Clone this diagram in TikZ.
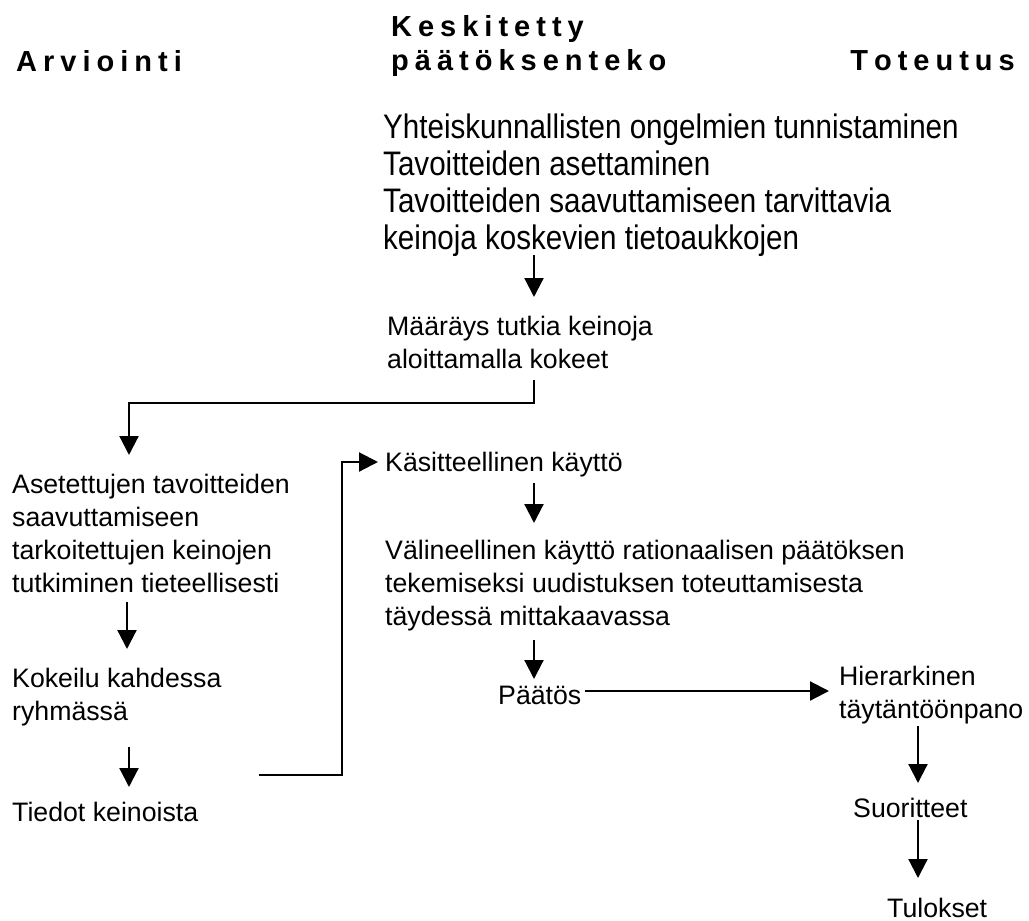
\documentclass[tikz,border=0pt]{standalone}
\usepackage{fontspec}
\setmainfont{Liberation Sans}
\newfontfamily\topfont{Liberation Sans}[FakeStretch=0.87]
\usetikzlibrary{arrows.meta}
\ExplSyntaxOn
\NewDocumentCommand\spread{m m}{ \tl_map_inline:nn {#2}{##1\kern#1} \kern-#1 }
\ExplSyntaxOff
\newcommand\ml[1]{\vtop{\halign{##\hfil\cr#1\crcr}}}
\tikzset{
  txt/.style={anchor=base west, inner sep=0pt, font=\fontsize{26.7}{33}\selectfont},
  toptxt/.style={anchor=base west, inner sep=0pt, font=\topfont\fontsize{34}{37}\selectfont},
  hdr/.style={anchor=base west, inner sep=0pt, font=\bfseries\fontsize{29}{33}\selectfont},
  arr/.style={line width=2.2pt, -{Triangle[length=19pt,width=19pt]}}
}
\begin{document}
\begin{tikzpicture}[x=1pt,y=-1pt]
\useasboundingbox (0,0) rectangle (1029,921);
% headers
\node[hdr] (h1) at (16,71) {\spread{6pt}{Arviointi}};
\node[hdr] (h2a) at (391,36) {\spread{6pt}{Keskitetty}};
\node[hdr] (h2b) at (391,70) {\spread{6pt}{päätöksenteko}};
\node[hdr, anchor=base east] (h3) at (1015,70) {\spread{6pt}{Toteutus}};
% nodes
\node[toptxt] (top) at (383,138) {\ml{Yhteiskunnallisten ongelmien tunnistaminen\cr Tavoitteiden asettaminen\cr Tavoitteiden saavuttamiseen tarvittavia\cr keinoja koskevien tietoaukkojen}};
\node[txt] (maar) at (387,335) {\ml{Määräys tutkia keinoja\cr aloittamalla kokeet}};
\node[txt] (aset) at (12,493) {\ml{Asetettujen tavoitteiden\cr saavuttamiseen\cr tarkoitettujen keinojen\cr tutkiminen tieteellisesti}};
\node[txt] (kok) at (12,687) {\ml{Kokeilu kahdessa\cr ryhmässä}};
\node[txt] (tied) at (12,821) {Tiedot keinoista};
\node[txt] (kas) at (385,471) {Käsitteellinen käyttö};
\node[txt] (val) at (385,559) {\ml{Välineellinen käyttö rationaalisen päätöksen\cr tekemiseksi uudistuksen toteuttamisesta\cr täydessä mittakaavassa}};
\node[txt] (paa) at (498,704) {Päätös};
\node[txt] (hie) at (839,685) {\ml{Hierarkinen\cr täytäntöönpano}};
\node[txt] (suo) at (853,817) {Suoritteet};
\node[txt] (tul) at (887,917) {Tulokset};
% connector ends
\coordinate (a1s) at (534,255); \coordinate (a1e) at (534,297);
\coordinate (c1s) at (534,380); \coordinate (c1e) at (129,455);
\coordinate (a2s) at (127,602); \coordinate (a2e) at (127,649);
\coordinate (a3s) at (129,747); \coordinate (a3e) at (129,787);
\coordinate (c2s) at (259,775); \coordinate (c2e) at (378,462);
\coordinate (a4s) at (534,483); \coordinate (a4e) at (534,523);
\coordinate (a5s) at (534,640); \coordinate (a5e) at (534,679);
\coordinate (a6s) at (585,691); \coordinate (a6e) at (829,691);
\coordinate (a7s) at (918,726); \coordinate (a7e) at (918,783);
\coordinate (a8s) at (918,820); \coordinate (a8e) at (918,878);
% connectors
\draw[arr] (a1s) -- (a1e);
\draw[arr] (c1s) -- (534,403) -| (c1e);
\draw[arr] (a2s) -- (a2e);
\draw[arr] (a3s) -- (a3e);
\draw[arr] (c2s) -- (342,775) |- (c2e);
\draw[arr] (a4s) -- (a4e);
\draw[arr] (a5s) -- (a5e);
\draw[arr] (a6s) -- (a6e);
\draw[arr] (a7s) -- (a7e);
\draw[arr] (a8s) -- (a8e);
\end{tikzpicture}
\end{document}
